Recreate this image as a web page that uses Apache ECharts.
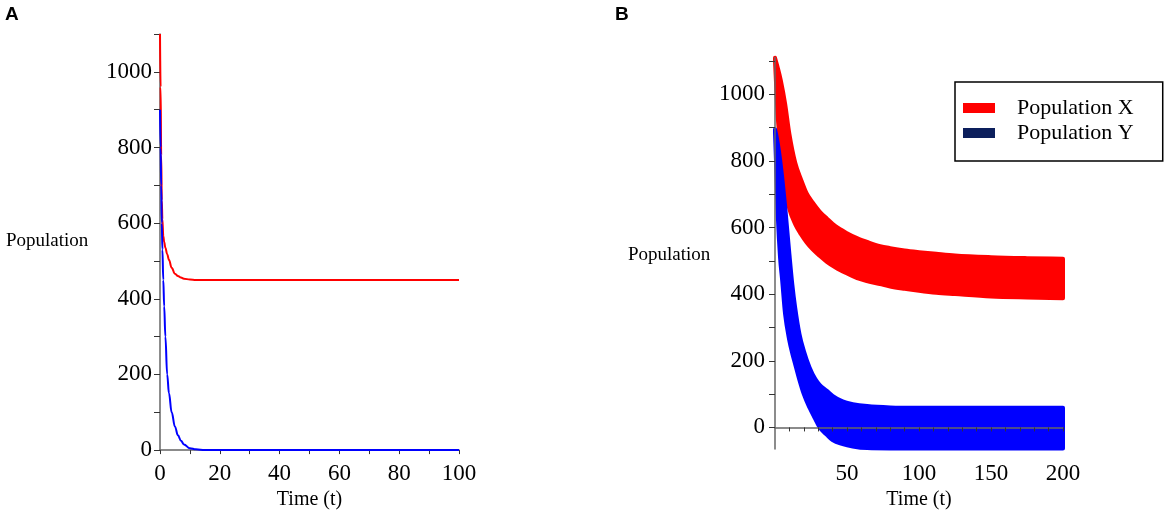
<!DOCTYPE html>
<html>
<head>
<meta charset="UTF-8">
<title>Population X / Y</title>
<script src="https://cdn.jsdelivr.net/npm/echarts@6.0.0/dist/echarts.min.js"></script>
<style>
html, body { margin: 0; padding: 0; background: #fff; }
#main { width: 1170px; height: 515px; }
</style>
</head>
<body>
<div id="main"></div>
<script type="text/javascript">
// ---- panel A : smooth curves ----
var tA    = [0, 0.2, 0.4, 0.6, 0.8, 1.1, 1.4, 1.8, 2.4, 3, 3.9, 5, 6, 7, 8, 10, 12, 15, 20, 30, 40, 50, 60, 70, 80, 90, 100];
var popXA = [1100, 960, 780, 660, 610, 566, 550, 535, 518, 503, 482, 466, 460, 456, 453, 451, 450, 450, 450, 450, 450, 450, 450, 450, 450, 450, 450];
var popYA = [900, 800, 700, 600, 530, 450, 380, 300, 200, 150, 100, 62, 39, 25, 15, 5, 2, 0, 0, 0, 0, 0, 0, 0, 0, 0, 0];

// ---- panel B : oscillating bands (lower / upper edge) ----
var tBX    = [0, 2, 4, 7, 10, 14, 18, 22, 26, 31, 36, 42, 50, 57, 65, 73, 80, 90, 100, 112, 125, 150, 175, 200];
var popXLo = [1100, 925, 835, 717, 655, 610, 580, 555, 535, 515, 497, 480, 462, 448, 438, 430, 423, 416, 410, 404, 400, 393, 390, 388];
var popXHi = [1109, 1078, 1042, 972, 880, 795, 745, 702, 676, 648, 627, 604, 583, 568, 555, 544, 538, 531, 526, 521, 516, 511, 508, 506];

var tBY    = [0, 1, 2, 3.5, 5, 7, 10, 12, 14, 17, 20, 24, 28, 31, 36, 40, 47, 54, 64, 80, 100, 125, 150, 175, 200];
var popYLo = [885, 760, 630, 510, 440, 340, 260, 222, 190, 142, 100, 59, 25, 0, -22, -38, -50, -57, -62, -63, -63, -63, -63, -63, -63];
var popYHi = [895, 875, 850, 805, 750, 665, 520, 430, 360, 280, 230, 180, 145, 128, 110, 95, 78, 70, 64, 60, 59, 59, 59, 59, 59];

// ---- tick labels / tick marks ----
var labelsAX = [0, 20, 40, 60, 80, 100];
var ticksAX  = [0, 10, 20, 30, 40, 50, 60, 70, 80, 90, 100];
var labelsAY = [0, 200, 400, 600, 800, 1000];
var ticksAY  = [0, 100, 200, 300, 400, 500, 600, 700, 800, 900, 1000, 1100];
var labelsBX = [50, 100, 150, 200];
var ticksBX  = [10, 20, 30, 40, 50, 60, 70, 80, 90, 100, 110, 120, 130, 140, 150, 160, 170, 180, 190, 200];
var labelsBY = [0, 200, 400, 600, 800, 1000];
var ticksBY  = [0, 100, 200, 300, 400, 500, 600, 700, 800, 900, 1000, 1100];

function pairs(t, v) {
    var out = [];
    for (var i = 0; i < t.length; i++) out.push([t[i], v[i]]);
    return out;
}

var serif = 'Liberation Serif';
var RED = '#ff0000', BLUE = '#0000ff';

function plain(v) { return String(v); }

function xAxisOf(idx, min, max, labels, ticks, gap, margin, z) {
    return {
        type: 'value', gridIndex: idx, min: min, max: max, z: z,
        name: 'Time (t)', nameLocation: 'middle', nameGap: gap,
        nameTextStyle: { fontFamily: serif, fontSize: 20, color: '#000' },
        axisLine: { show: true, onZero: true, lineStyle: { color: '#666', width: 1.5 } },
        axisTick: { show: true, length: 4, customValues: ticks, lineStyle: { color: '#333', width: 1 } },
        axisLabel: { customValues: labels, margin: margin, formatter: plain, fontFamily: serif, fontSize: 23, color: '#000' },
        splitLine: { show: false }
    };
}
function yAxisOf(idx, min, max, labels, ticks, margin, z) {
    return {
        type: 'value', gridIndex: idx, min: min, max: max, z: z,
        axisLine: { show: true, onZero: true, lineStyle: { color: '#666', width: 1.5 } },
        axisTick: { show: true, length: 6, customValues: ticks, lineStyle: { color: '#333', width: 1 } },
        axisLabel: { customValues: labels, margin: margin, formatter: plain, fontFamily: serif, fontSize: 23, color: '#000' },
        splitLine: { show: false }
    };
}

// monotone cubic pieces through pixel points (x increasing)
function monoSegments(p) {
    var n = p.length, d = [], m = [], i;
    for (i = 0; i < n - 1; i++) d.push((p[i + 1][1] - p[i][1]) / (p[i + 1][0] - p[i][0]));
    m[0] = d[0]; m[n - 1] = d[n - 2];
    for (i = 1; i < n - 1; i++) m[i] = (d[i - 1] * d[i] <= 0) ? 0 : (d[i - 1] + d[i]) / 2;
    for (i = 0; i < n - 1; i++) {
        if (d[i] === 0) { m[i] = 0; m[i + 1] = 0; continue; }
        var a = m[i] / d[i], b = m[i + 1] / d[i], s = a * a + b * b;
        if (s > 9) { var tau = 3 / Math.sqrt(s); m[i] = tau * a * d[i]; m[i + 1] = tau * b * d[i]; }
    }
    var segs = [];
    for (i = 0; i < n - 1; i++) {
        var h = p[i + 1][0] - p[i][0];
        segs.push([[p[i][0] + h / 3, p[i][1] + m[i] * h / 3], [p[i + 1][0] - h / 3, p[i + 1][1] - m[i + 1] * h / 3]]);
    }
    return segs;
}

// band between lower and upper edge, drawn as one closed path in grid B
function band(name, t, lo, hi, color, z) {
    var rows = [];
    for (var i = 0; i < t.length; i++) rows.push([t[i], lo[i], hi[i]]);
    return {
        name: name, type: 'custom', xAxisIndex: 1, yAxisIndex: 1, z: z,
        silent: true, clip: false,
        data: rows,
        encode: { x: 0, y: [1, 2] },
        itemStyle: { color: color },
        renderItem: function (params, api) {
            if (params.dataIndex !== 0) return;
            var top = [], bot = [], k;
            for (k = 0; k < rows.length; k++) {
                top.push(api.coord([rows[k][0], rows[k][2]]));
                bot.push(api.coord([rows[k][0], rows[k][1]]));
            }
            var st = monoSegments(top), sb = monoSegments(bot);
            var f = function (q) { return q[0].toFixed(2) + ' ' + q[1].toFixed(2); };
            var d = 'M' + f(top[0]);
            for (k = 0; k < st.length; k++) d += ' C' + f(st[k][0]) + ' ' + f(st[k][1]) + ' ' + f(top[k + 1]);
            d += ' L' + f(bot[bot.length - 1]);
            for (k = sb.length - 1; k >= 0; k--) d += ' C' + f(sb[k][1]) + ' ' + f(sb[k][0]) + ' ' + f(bot[k]);
            d += ' Z';
            var all = top.concat(bot), x0 = Infinity, x1 = -Infinity, y0 = Infinity, y1 = -Infinity;
            for (k = 0; k < all.length; k++) {
                x0 = Math.min(x0, all[k][0]); x1 = Math.max(x1, all[k][0]);
                y0 = Math.min(y0, all[k][1]); y1 = Math.max(y1, all[k][1]);
            }
            return {
                type: 'path',
                shape: { pathData: d, x: x0, y: y0, width: x1 - x0, height: y1 - y0, layout: 'cover' },
                style: { fill: color, stroke: color, lineWidth: 4, lineJoin: 'round' }
            };
        }
    };
}

var myChart = echarts.init(document.getElementById('main'));
myChart.setOption({
    animation: false,
    backgroundColor: '#fff',
    grid: [
        { left: 160, top: 34, width: 299, height: 418 },
        { left: 775, top: 57.5, width: 288, height: 420 }
    ],
    xAxis: [
        xAxisOf(0, 0, 100, labelsAX, ticksAX, 38, 12, 0),
        xAxisOf(1, 0, 200, labelsBX, ticksBX, 37, 13, 5)
    ],
    yAxis: [
        yAxisOf(0, 0, 1100, labelsAY, ticksAY, 8, 0),
        yAxisOf(1, -65, 1110, labelsBY, ticksBY, 10, 5)
    ],
    legend: {
        left: 955, top: 82, orient: 'vertical', icon: 'rect',
        itemWidth: 32, itemHeight: 10, itemGap: 3,
        padding: [15, 29, 17, 8],
        borderColor: '#000', borderWidth: 1.5, backgroundColor: '#fff',
        selectedMode: false,
        itemStyle: { borderWidth: 0 },
        textStyle: { fontFamily: serif, fontSize: 22, color: '#000', padding: [0, 0, 0, 17] },
        data: [
            { name: 'Population X', itemStyle: { color: '#ff0000' } },
            { name: 'Population Y', itemStyle: { color: '#0c1f5c' } }
        ]
    },
    graphic: [
        { type: 'text', left: 5, top: 5, style: { text: 'A', font: 'bold 19px "Liberation Sans"', fill: '#000' } },
        { type: 'text', left: 615, top: 5, style: { text: 'B', font: 'bold 19px "Liberation Sans"', fill: '#000' } },
        { type: 'text', left: 6, top: 232, style: { text: 'Population', font: '19px "Liberation Serif"', fill: '#000' } },
        { type: 'text', left: 628, top: 246, style: { text: 'Population', font: '19px "Liberation Serif"', fill: '#000' } }
    ],
    series: [
        {
            name: 'X (A)', type: 'line', xAxisIndex: 0, yAxisIndex: 0,
            data: pairs(tA, popXA), symbol: 'none', smooth: 0.4, smoothMonotone: 'x', clip: false,
            lineStyle: { color: RED, width: 2 }, itemStyle: { color: RED }
        },
        {
            name: 'Y (A)', type: 'line', xAxisIndex: 0, yAxisIndex: 0,
            data: pairs(tA, popYA), symbol: 'none', smooth: 0.4, smoothMonotone: 'x', clip: false,
            lineStyle: { color: BLUE, width: 2 }, itemStyle: { color: BLUE }
        },
        band('Population X', tBX, popXLo, popXHi, RED, 2),
        band('Population Y', tBY, popYLo, popYHi, BLUE, 3)
    ]
});
</script>
</body>
</html>
